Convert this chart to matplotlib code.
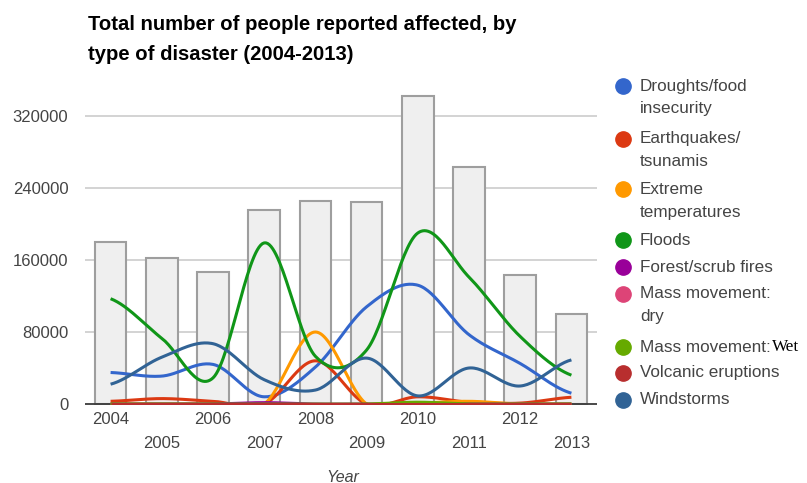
import numpy as np
import matplotlib
matplotlib.use("Agg")
import matplotlib.pyplot as plt
from matplotlib.lines import Line2D

years = ["2004", "2005", "2006", "2007", "2008", "2009", "2010", "2011", "2012", "2013"]
totals = [180000, 162000, 147000, 215000, 226000, 224000, 342000, 263000, 143000, 100000]

droughts = [35000, 31000, 44000, 8000, 41000, 108000, 132000, 77000, 45000, 12000]
earthquakes = [3000, 6000, 3000, 0, 48000, 0, 8000, 2000, 1000, 7500]
extreme_temps = [0, 0, 0, 0, 80000, 0, 1000, 3000, 0, 0]
floods = [117000, 73000, 29000, 179000, 53000, 60000, 190000, 141000, 75000, 32000]
forest_fires = [0, 0, 0, 1500, 0, 0, 0, 0, 0, 0]
mass_dry = [0, 0, 0, 0, 0, 0, 0, 0, 0, 0]
mass_wet = [0, 0, 0, 0, 0, 0, 2000, 0, 0, 0]
volcanic = [500, 500, 500, 500, 500, 500, 500, 500, 500, 500]
windstorms = [22000, 52000, 67000, 27000, 15500, 51000, 9000, 40000, 20000, 49000]

series = [
    ("Droughts/food\ninsecurity", droughts, "#3366cc"),
    ("Earthquakes/\ntsunamis", earthquakes, "#dc3912"),
    ("Extreme\ntemperatures", extreme_temps, "#ff9900"),
    ("Floods", floods, "#109618"),
    ("Forest/scrub fires", forest_fires, "#990099"),
    ("Mass movement:\ndry", mass_dry, "#dd4477"),
    ("Mass movement:", mass_wet, "#66aa00"),
    ("Volcanic eruptions", volcanic, "#b82e2e"),
    ("Windstorms", windstorms, "#316395"),
]


def smooth(y, n=30):
    """Catmull-Rom curve through the points at x = 0..len(y)-1."""
    y = np.asarray(y, dtype=float)
    p = np.concatenate([[y[0]], y, [y[-1]]])
    xs, ys = [], []
    for i in range(len(y) - 1):
        p0, p1, p2, p3 = p[i], p[i + 1], p[i + 2], p[i + 3]
        t = np.linspace(0, 1, n, endpoint=(i == len(y) - 2))
        m1 = (p2 - p0) / 2
        m2 = (p3 - p1) / 2
        h00 = 2 * t**3 - 3 * t**2 + 1
        h10 = t**3 - 2 * t**2 + t
        h01 = -2 * t**3 + 3 * t**2
        h11 = t**3 - t**2
        xs.append(i + t)
        ys.append(h00 * p1 + h10 * m1 + h01 * p2 + h11 * m2)
    return np.concatenate(xs), np.concatenate(ys)


W, H = 807, 483
plt.rcParams["font.family"] = ["Liberation Sans", "DejaVu Sans"]
fig = plt.figure(figsize=(W / 100, H / 100), dpi=100)

left_px, right_px, base_px = 85, 597, 404
ymin, ymax = -1500, 360000
px_per_unit = 0.0009
top_px = base_px - ymax * px_per_unit
bot_px = base_px - ymin * px_per_unit
ax = fig.add_axes([left_px / W, (H - bot_px) / H,
                   (right_px - left_px) / W, (bot_px - top_px) / H])

x = np.arange(len(years))
ax.bar(x, totals, width=0.62, color="#efefef", edgecolor="#9e9e9e",
       linewidth=1.5, zorder=2)

ax.plot([-0.5, len(years) - 0.5], [0, 0], color="#333333", lw=1.2, zorder=3)

for label, vals, color in series:
    sx, sy = smooth(vals)
    ax.plot(sx, sy, color=color, lw=2.2, zorder=4, solid_capstyle="butt")

ax.set_xlim(-0.5, len(years) - 0.5)
ax.set_ylim(ymin, ymax)
ax.set_yticks([0, 80000, 160000, 240000, 320000])
ax.yaxis.grid(True, color="#cccccc", lw=1.2, zorder=0)
ax.set_axisbelow(True)
for s in ax.spines.values():
    s.set_visible(False)
ax.tick_params(axis="y", length=0, pad=12, labelsize=12, labelcolor="#444444")
ax.set_yticklabels(["0", "80000", "160000", "240000", "320000"])
ax.set_xticks([])

# staggered year labels
for i, yr in enumerate(years):
    ypx = 420 if i % 2 == 0 else 444
    fig.text((left_px + (i + 0.5) * (right_px - left_px) / len(years)) / W,
             1 - ypx / H, yr, ha="center", va="center", fontsize=12,
             color="#444444")

fig.text(343 / W, 1 - 477 / H, "Year", ha="center", va="center",
         fontsize=11.5, style="italic", color="#444444")

fig.text(88 / W, 1 - 25 / H, "Total number of people reported affected, by",
         ha="left", va="center", fontsize=14.6, fontweight="bold", color="#000000")
fig.text(88 / W, 1 - 55 / H, "type of disaster (2004-2013)",
         ha="left", va="center", fontsize=14.6, fontweight="bold", color="#000000")

# legend
renderer = fig.canvas.get_renderer()
leg_rows = [86, 139, 189, 240, 267, 294, 347, 373, 400]
for (label, vals, color), ypx in zip(series, leg_rows):
    fig.add_artist(Line2D([623 / W], [1 - ypx / H], marker="o", markersize=11,
                          color=color, transform=fig.transFigure))
    lines = label.split("\n")
    for k, ln in enumerate(lines):
        t = fig.text(640 / W, 1 - (ypx + k * 23) / H, ln, ha="left", va="center",
                     fontsize=12.3, color="#444444")
    if label == "Mass movement:":
        bb = t.get_window_extent(renderer)
        fig.text((bb.x1 + 1) / W, 1 - ypx / H, "Wet", ha="left", va="center",
                 fontsize=12.3, color="#000000", family="Liberation Serif")

fig.savefig("out.png", dpi=100)
